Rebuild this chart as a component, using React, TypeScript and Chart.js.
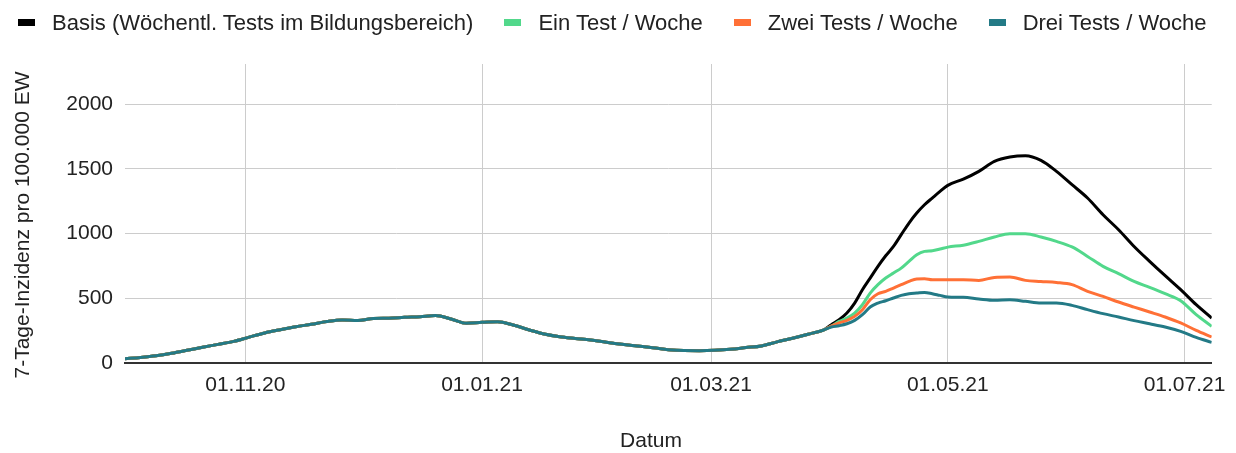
import { useEffect, useRef } from "react";
import { Chart, registerables } from "chart.js";

Chart.register(...registerables);

const FONT_FAMILY = 'Arial, "Liberation Sans", Helvetica, sans-serif';
const TEXT_COLOR = "#222222";

// days since 01.10.2020
const commonDays = [
  0, 4, 8, 12, 16, 20, 24, 28, 32, 36, 40, 44, 48, 52, 56, 60, 64, 68, 72, 76,
  80, 84, 88, 92, 96, 100, 104, 108, 112, 116, 120, 124, 128, 132, 136, 140,
  144, 148, 152, 156, 160, 164, 168, 172, 176, 180,
];
// identical for all scenarios before they diverge
const commonValues = [
  33, 43, 56, 75, 98, 122, 144, 167, 200, 232, 257, 280, 299, 320, 332, 328,
  344, 346, 353, 358, 366, 340, 307, 314, 318, 293, 257, 224, 203, 190, 178,
  160, 144, 131, 118, 103, 96, 95, 98, 106, 119, 132, 163, 191, 222, 255,
];

const tailDays = [
  182, 184, 186, 188, 190, 192, 194, 196, 198, 200, 202, 204, 206, 208, 210,
  212, 216, 220, 224, 228, 232, 236, 240, 244, 248, 252, 256, 260, 264, 268,
  272, 276, 280,
];
const basisTail = [
  296, 334, 386, 463, 566, 656, 746, 828, 900, 991, 1081, 1158, 1222, 1274,
  1325, 1372, 1420, 1480, 1557, 1591, 1601, 1565, 1480, 1377, 1274, 1145, 1029,
  900, 785, 674, 566, 450, 347,
];
const einTail = [
  285, 321, 347, 386, 450, 540, 605, 656, 695, 733, 785, 836, 862, 867, 880,
  895, 910, 939, 973, 998, 998, 973, 939, 896, 823, 746, 690, 630, 584, 535,
  481, 373, 283,
];
const zweiTail = [
  285, 309, 329, 360, 412, 489, 535, 553, 579, 605, 630, 649, 651, 643, 643,
  643, 643, 638, 661, 664, 638, 630, 622, 605, 553, 514, 471, 432, 394, 355,
  309, 252, 201,
];
const dreiTail = [
  278, 288, 303, 329, 373, 432, 463, 481, 502, 522, 535, 540, 545, 535, 522,
  510, 507, 494, 484, 489, 476, 463, 463, 445, 412, 381, 355, 327, 303, 278,
  244, 198, 159,
];

const seriesNames = [
  "Basis (Wöchentl. Tests im Bildungsbereich)",
  "Ein Test / Woche",
  "Zwei Tests / Woche",
  "Drei Tests / Woche",
];
const seriesColors = ["#000000", "#52d88b", "#ff7036", "#237a86"];
const seriesTails = [basisTail, einTail, zweiTail, dreiTail];

const tickDays = [31, 92, 151, 212, 273];
const tickLabels = ["01.11.20", "01.01.21", "01.03.21", "01.05.21", "01.07.21"];
const yTicks = [0, 500, 1000, 1500, 2000];

const xTitle = "Datum";
const yTitle = "7-Tage-Inzidenz pro 100.000 EW";

const axisTitlePlugin = {
  id: "axisTitles",
  afterDraw(chart: any) {
    const ctx = chart.ctx as CanvasRenderingContext2D;
    ctx.save();
    ctx.font = `21px ${FONT_FAMILY}`;
    ctx.fillStyle = TEXT_COLOR;
    ctx.textAlign = "center";
    ctx.textBaseline = "middle";
    ctx.fillText(xTitle, 651, 441);
    ctx.translate(23, 225);
    ctx.rotate(-Math.PI / 2);
    ctx.fillText(yTitle, 0, 0);
    ctx.restore();
  },
};

export default function App() {
  const canvasRef = useRef<HTMLCanvasElement>(null);

  useEffect(() => {
    document.body.style.margin = "0";
    const allDays = [...commonDays, ...tailDays];
    const datasets = seriesNames.map((name, i) => {
      const values = [...commonValues, ...seriesTails[i]];
      return {
        label: name,
        data: allDays.map((d, k) => ({ x: d, y: values[k] })),
        borderColor: seriesColors[i],
        backgroundColor: seriesColors[i],
        borderWidth: 3,
        pointRadius: 0,
        tension: 0.3,
        cubicInterpolationMode: "monotone" as const,
        order: 4 - i,
      };
    });

    const font = { family: FONT_FAMILY, size: 21 };
    const chart = new Chart(canvasRef.current!, {
      type: "line",
      data: { datasets },
      plugins: [axisTitlePlugin],
      options: {
        responsive: false,
        animation: false,
        layout: { padding: { top: 64, right: 23, left: 0, bottom: 0 } },
        plugins: {
          legend: { display: false },
          tooltip: { enabled: false },
        },
        scales: {
          x: {
            type: "linear",
            min: 0,
            max: 280,
            afterBuildTicks: (s: any) => {
              s.ticks = tickDays.map((v) => ({ value: v }));
            },
            afterFit: (s: any) => {
              s.height = 90;
            },
            ticks: {
              font,
              color: TEXT_COLOR,
              padding: 10,
              maxRotation: 0,
              autoSkip: false,
              callback: (v: any) => {
                const idx = tickDays.indexOf(Number(v));
                return idx >= 0 ? tickLabels[idx] : "";
              },
            },
            grid: { color: "#cccccc", lineWidth: 1, drawTicks: false },
            border: { color: "#333333", width: 2 },
            title: { display: false },
          },
          y: {
            min: 0,
            max: 2309,
            afterBuildTicks: (s: any) => {
              s.ticks = yTicks.map((v) => ({ value: v }));
            },
            afterFit: (s: any) => {
              s.width = 125;
            },
            ticks: {
              font,
              color: TEXT_COLOR,
              padding: 12,
              callback: (v: any) => String(v),
            },
            grid: { color: "#cccccc", lineWidth: 1, drawTicks: false },
            border: { display: false },
            title: { display: false },
          },
        },
      },
    });
    return () => chart.destroy();
  }, []);

  return (
    <div style={{ position: "relative", width: 1236, height: 453, background: "#fff" }}>
      <canvas ref={canvasRef} width={1236} height={453} style={{ display: "block" }} />
      <div
        style={{
          position: "absolute",
          top: 10,
          left: 18,
          height: 25,
          display: "flex",
          alignItems: "center",
          gap: 31,
          fontFamily: FONT_FAMILY,
          fontSize: 22,
          lineHeight: "25px",
          color: TEXT_COLOR,
          whiteSpace: "nowrap",
        }}
      >
        {seriesNames.map((name, i) => (
          <div key={name} style={{ display: "flex", alignItems: "center" }}>
            <span
              style={{
                display: "inline-block",
                width: 17,
                height: 7,
                background: seriesColors[i],
                marginRight: 17,
              }}
            />
            <span>{name}</span>
          </div>
        ))}
      </div>
    </div>
  );
}
